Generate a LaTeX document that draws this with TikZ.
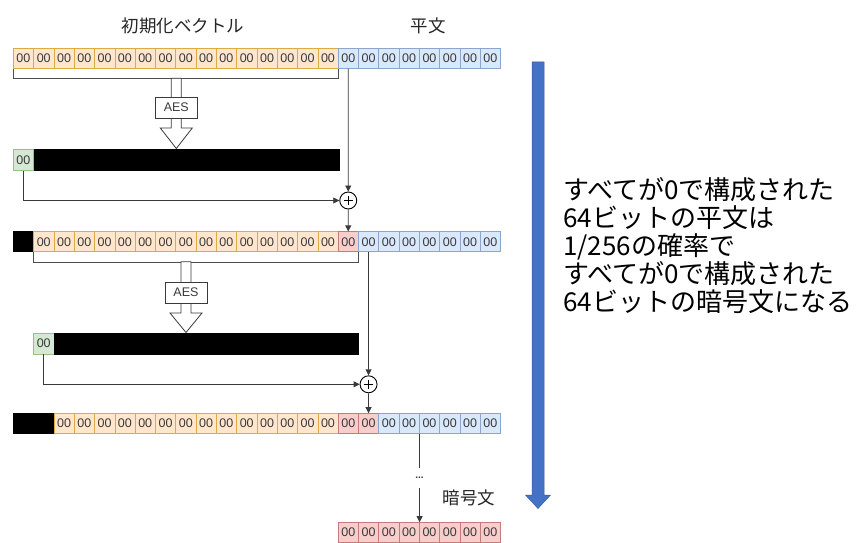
\documentclass[tikz,border=0pt]{standalone}
\usepackage{fontspec}
\setmainfont{Liberation Sans}
\newfontfamily\cjk{Noto Sans CJK JP}
\usetikzlibrary{arrows.meta}
\definecolor{orF}{HTML}{FFE6CC}\definecolor{orD}{HTML}{DDAA44}
\definecolor{blF}{HTML}{DAE8FC}\definecolor{blD}{HTML}{8AA6CF}
\definecolor{rdF}{HTML}{F8CECC}\definecolor{rdD}{HTML}{C87A78}
\definecolor{grF}{HTML}{D5E8D4}\definecolor{grD}{HTML}{97C08A}
\definecolor{txt}{HTML}{3A3A3A}
\definecolor{bigblue}{HTML}{4472C4}
\tikzset{
 cell/.style={draw, minimum width=20.3pt, minimum height=20pt, inner sep=0pt,
   font=\fontsize{12.5}{12.5}\selectfont, text=txt, line width=0.6pt},
 orc/.style={cell, fill=orF, draw=orD},
 blc/.style={cell, fill=blF, draw=blD},
 rdc/.style={cell, fill=rdF, draw=rdD},
 grc/.style={cell, fill=grF, draw=grD, minimum height=21pt},
 blk/.style={cell, fill=black, draw=black},
 bar/.style={draw=black, fill=black, minimum height=21pt, inner sep=0pt, anchor=west},
 conn/.style={draw=txt, line width=0.8pt, -{Triangle[length=6pt,width=6pt]}},
 plain/.style={draw=txt!90!white, line width=0.8pt},
 xor/.style={circle, draw=black, line width=0.9pt, minimum size=17pt, inner sep=0pt,
   path picture={\draw[line width=1.3pt]
     ([xshift=-4.5pt]path picture bounding box.center) -- ([xshift=4.5pt]path picture bounding box.center)
     ([yshift=-4.5pt]path picture bounding box.center) -- ([yshift=4.5pt]path picture bounding box.center);}},
 aes/.style={draw=txt, fill=white, line width=0.8pt, minimum width=42pt, minimum height=21pt,
   inner sep=0pt, font=\fontsize{12.5}{12.5}\selectfont, text=txt},
 hollow/.style={draw=txt, fill=white, line width=0.8pt, line join=miter},
 lbl/.style={font=\cjk\fontsize{17.5}{18}\selectfont, text=black!85},
}
\begin{document}
\begin{tikzpicture}[x=1pt,y=-1pt]
\fill[white] (0,0) rectangle (863,543);
\useasboundingbox (0,0) rectangle (863,543);

% labels
\node[lbl] (ivl) at (183,26) {初期化ベクトル};
\node[lbl] (ptl) at (428,26) {平文};

% row 1
\foreach \i in {1,...,16} \node[orc] (r1-\i) at ({13.3+(\i-0.5)*20.3},58.3) {00};
\foreach \i in {17,...,24} \node[blc] (r1-\i) at ({13.3+(\i-0.5)*20.3},58.3) {00};
\draw[plain] (r1-1.south west) -- ++(0,10) -| (r1-16.south east);

% AES 1
\draw[hollow] (171.3,78.3) -- (171.3,128) -- (160.3,128) -- (176.3,148.5) -- (192.3,128) -- (181.3,128) -- (181.3,78.3) -- cycle;
\node[aes] (aes1) at (176.3,107.5) {AES};

% bar 1
\node[grc] (g1) at (23.45,160) {00};
\node[bar, minimum width=305.7pt] (bar1) at (33.6,160) {};

% xor 1
\node[xor] (x1) at (348.25,200.5) {};

% row 3
\node[blk] (r3-1) at ({13.3+0.5*20.3},241.7) {};
\foreach \i in {2,...,16} \node[orc] (r3-\i) at ({13.3+(\i-0.5)*20.3},241.7) {00};
\node[rdc] (r3-17) at ({13.3+16.5*20.3},241.7) {00};
\foreach \i in {18,...,24} \node[blc] (r3-\i) at ({13.3+(\i-0.5)*20.3},241.7) {00};
\draw[plain] (r3-2.south west) -- ++(0,10) -| (r3-17.south east);

% AES 2
\draw[hollow] (181,261.7) -- (181,313) -- (170,313) -- (186,332.5) -- (202,313) -- (191,313) -- (191,261.7) -- cycle;
\node[aes] (aes2) at (186,292.5) {AES};

% bar 2
\node[grc] (g2) at (43.75,343.5) {00};
\node[bar, minimum width=304.5pt] (bar2) at (53.9,343.5) {};

% xor 2
\node[xor] (x2) at (368.55,384.3) {};

% row 5
\foreach \i in {1,2} \node[blk] (r5-\i) at ({13.3+(\i-0.5)*20.3},423.5) {};
\foreach \i in {3,...,16} \node[orc] (r5-\i) at ({13.3+(\i-0.5)*20.3},423.5) {00};
\foreach \i in {17,18} \node[rdc] (r5-\i) at ({13.3+(\i-0.5)*20.3},423.5) {00};
\foreach \i in {19,...,24} \node[blc] (r5-\i) at ({13.3+(\i-0.5)*20.3},423.5) {00};

% bottom row
\foreach \i in {17,...,24} \node[rdc] (b-\i) at ({13.3+(\i-0.5)*20.3},532.5) {00};
\node[lbl] (ctl) at (469,498) {暗号文};

% connectors
\draw[conn] (r1-17.south) -- (x1.north);
\draw[conn] (g1.south) |- (x1.west);
\draw[conn] (x1.south) -- (r3-17.north);
\draw[conn] (r3-18.south) -- (x2.north);
\draw[conn] (g2.south) |- (x2.west);
\draw[conn] (x2.south) -- (r5-18.north);
\draw[conn] (r5-20.south east) -- node[fill=white, inner sep=0pt, minimum height=20pt, font=\bfseries\fontsize{10}{10}\selectfont, text=txt] (dots) {...} (b-20.north east);

% big blue arrow
\draw[fill=bigblue, draw=bigblue!80!black, line width=0.5pt] (532,62) -- (544,62) -- (544,495) -- (550.5,495) -- (538,508.5) -- (525.5,495) -- (532,495) -- cycle;

% note
\node[anchor=west, align=left, font=\cjk\fontsize{26}{28}\selectfont, inner sep=0pt] (note) at (563,246)
 {すべてが0で構成された\\64ビットの平文は\\1/256の確率で\\すべてが0で構成された\\64ビットの暗号文になる};
\end{tikzpicture}
\end{document}
